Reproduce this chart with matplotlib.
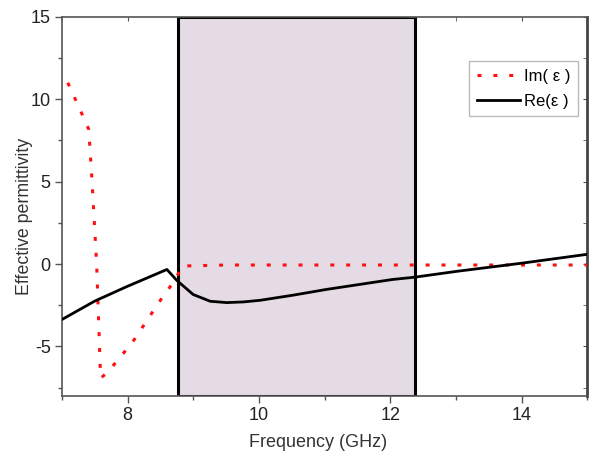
import matplotlib
matplotlib.use("Agg")
import matplotlib.pyplot as plt
from matplotlib.patches import Rectangle
from matplotlib.ticker import MultipleLocator

plt.rcParams['font.family'] = ['Liberation Sans', 'DejaVu Sans']
plt.rcParams['axes.unicode_minus'] = False

# Im(eps) data
im_f = [7.09, 7.20, 7.31, 7.41, 7.46, 7.53, 7.59, 7.70, 7.90, 8.10, 8.30, 8.50, 8.73, 8.83, 9.5, 10.5, 11.5, 12.5, 13.5, 15.0]
im_v = [11.0, 10.04, 9.07, 8.17, 5.0, 0.0, -6.93, -6.55, -5.6, -4.6, -3.4, -2.2, -0.93, -0.12, -0.06, -0.06, -0.06, -0.06, -0.06, -0.06]

# Re(eps) data
re_f = [7.0, 7.5, 8.0, 8.6, 8.75, 9.0, 9.26, 9.51, 9.76, 10.02, 10.52, 11.03, 11.53, 12.03, 12.37, 13.0, 14.0, 15.0]
re_v = [-3.37, -2.25, -1.35, -0.33, -0.99, -1.85, -2.26, -2.34, -2.30, -2.20, -1.89, -1.54, -1.24, -0.94, -0.80, -0.45, 0.05, 0.59]

band = (8.77, 12.38)

fig = plt.figure(figsize=(5.89, 4.54), dpi=100)
ax = fig.add_axes([0.105, 0.128, 0.892, 0.835])

ax.add_patch(Rectangle((band[0], -8), band[1] - band[0], 23,
                       facecolor='#e4dbe5', edgecolor='black', linewidth=2.2, zorder=1))

ax.plot(im_f, im_v, linestyle=(0, (1.3, 3.9)), color='#ff1010', linewidth=2.2,
        label='Im( ε )', zorder=3)
ax.plot(re_f, re_v, color='black', linewidth=2.0, label='Re(ε )', zorder=4)

ax.set_xlim(7, 15)
ax.set_ylim(-8, 15)
ax.xaxis.set_major_locator(MultipleLocator(2))
ax.xaxis.set_minor_locator(MultipleLocator(1))
ax.yaxis.set_major_locator(MultipleLocator(5))
ax.yaxis.set_minor_locator(MultipleLocator(2.5))

for s in ax.spines.values():
    s.set_color('#555555')
    s.set_linewidth(1.2)
ax.spines['right'].set_linewidth(2.0)
ax.spines['right'].set_color('#444444')

ax.tick_params(which='major', direction='out', length=5, width=1.0, color='#555555',
               labelsize=13, pad=3, labelcolor='#222222')
ax.tick_params(which='minor', direction='out', length=3, width=1.0, color='#555555')

sx = ax.secondary_xaxis('top')
sx.xaxis.set_major_locator(MultipleLocator(2))
sx.xaxis.set_minor_locator(MultipleLocator(1))
sx.tick_params(which='both', direction='in', length=3, color='#555555', labeltop=False)
sx.spines['top'].set_visible(False)
sy = ax.secondary_yaxis('right')
sy.yaxis.set_major_locator(MultipleLocator(5))
sy.yaxis.set_minor_locator(MultipleLocator(2.5))
sy.tick_params(which='both', direction='in', length=3, color='#555555', labelright=False)
sy.spines['right'].set_visible(False)

ax.set_xlabel('Frequency (GHz)', fontsize=13, color='#333333')
ax.set_ylabel('Effective permittivity', fontsize=12.8, color='#333333')
ax.xaxis.set_label_coords(0.488, -0.122)
ax.yaxis.set_label_coords(-0.072, 0.474)
ax.yaxis.label.set_verticalalignment('center')
ax.xaxis.label.set_verticalalignment('center')

leg = ax.legend(loc='upper right', bbox_to_anchor=(0.9815, 0.883), fontsize=12,
                frameon=True, fancybox=False, handlelength=2.6, handletextpad=0.2,
                borderpad=0.45, labelspacing=0.6, borderaxespad=0)
leg.get_frame().set_edgecolor('#aaaaaa')
leg.get_frame().set_linewidth(1.0)

fig.savefig('out.png', dpi=100)
